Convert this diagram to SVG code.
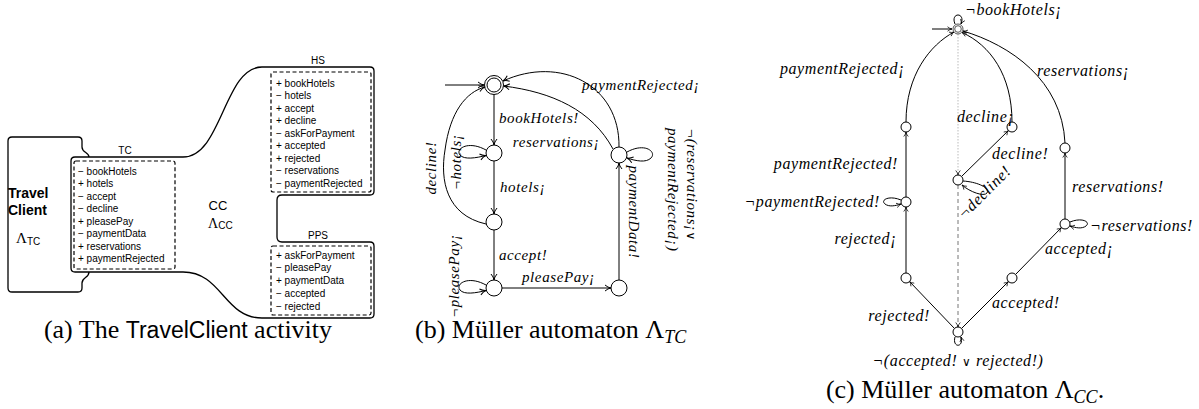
<svg xmlns="http://www.w3.org/2000/svg" width="1199" height="409" viewBox="0 0 1199 409">
  <style>
    .ln { fill: none; stroke: #000; stroke-width: 1; }
    .box { fill: none; stroke: #000; stroke-width: 1.3; }
    .dash { fill: none; stroke: #000; stroke-width: 1.2; stroke-dasharray: 4 2.5; }
    .st { fill: #fff; stroke: #000; stroke-width: 1; }
    .sans { font-family: "Liberation Sans", Arial, sans-serif; fill: #000; }
    .item { font-family: "Liberation Sans", Arial, sans-serif; font-size: 10px; fill: #000; }
    .lbl { font-family: "Liberation Serif", "Times New Roman", serif; font-style: italic; font-size: 15px; letter-spacing: 0.6px; fill: #000; }
    .lbc { font-family: "Liberation Serif", "Times New Roman", serif; font-style: italic; font-size: 16px; letter-spacing: 0.6px; fill: #000; }
    .or { font-family: "DejaVu Sans", sans-serif; font-style: normal; font-size: 12px; }
    .cap { font-family: "Liberation Serif", "Times New Roman", serif; font-size: 26px; fill: #000; }
  </style>
  <defs>
    <marker id="arr" viewBox="0 0 8 8" refX="7" refY="4" markerWidth="8" markerHeight="8" markerUnits="userSpaceOnUse" orient="auto">
      <path d="M1,1 Q4,3.6 7,4 Q4,4.4 1,7" fill="none" stroke="#000" stroke-width="1"/>
    </marker>
    <marker id="arrs" viewBox="0 0 8 8" refX="7" refY="4" markerWidth="6" markerHeight="6" markerUnits="userSpaceOnUse" orient="auto">
      <path d="M1,1 Q4,3.6 7,4 Q4,4.4 1,7" fill="none" stroke="#000" stroke-width="1"/>
    </marker>
  </defs>

  <!-- (a) activity -->
  <g id="travel-client">
    <path class="box" d="M12,137 L78,137 Q82,137 82,141 L82,147 C82,153 89,152 89,157 M89,272 C89,278 82,277 82,283 L82,288 Q82,292 78,292 L12,292 Q8,292 8,288 L8,141 Q8,137 12,137"/>
    <text class="sans" x="8" y="198" font-size="14" font-weight="bold">Travel</text>
    <text class="sans" x="8" y="215" font-size="14" font-weight="bold">Client</text>
    <text x="16" y="243" font-family="Liberation Serif, serif" font-size="15">Λ<tspan class="sans" font-size="10" dy="2">TC</tspan></text>
  </g>
  <g id="cc-component">
    <path class="box" d="M75,157 L183,157 C222,157 224,67 262,67 L370,67 Q374,67 374,71 L374,191 Q374,195 370,195 L282,195 Q277,195 277,200 L277,237 Q277,242 282,242 L370,242 Q374,242 374,246 L374,314 Q374,318 370,318 L262,318 C224,318 222,272 183,272 L75,272 Q71,272 71,268 L71,161 Q71,157 75,157 Z"/>
    <text class="sans" x="218" y="210" font-size="13" text-anchor="middle">CC</text>
    <text x="208" y="228" font-family="Liberation Serif, serif" font-size="14">Λ<tspan class="sans" font-size="10" dy="1">CC</tspan></text>
  </g>
  <g id="port-tc">
    <rect class="dash" x="74" y="161" width="101" height="108" rx="2"/>
    <text class="item" x="125" y="154" text-anchor="middle">TC</text>
    <text class="item" x="78" y="174.5">− bookHotels</text>
    <text class="item" x="78" y="187">+ hotels</text>
    <text class="item" x="78" y="199.5">− accept</text>
    <text class="item" x="78" y="212">− decline</text>
    <text class="item" x="78" y="224.5">+ pleasePay</text>
    <text class="item" x="78" y="237">− paymentData</text>
    <text class="item" x="78" y="249.5">+ reservations</text>
    <text class="item" x="78" y="262">+ paymentRejected</text>
  </g>
  <g id="port-hs">
    <rect class="dash" x="271" y="72" width="100" height="120" rx="2"/>
    <text class="item" x="318" y="64" text-anchor="middle">HS</text>
    <text class="item" x="276" y="86.5">+ bookHotels</text>
    <text class="item" x="276" y="99">− hotels</text>
    <text class="item" x="276" y="111.5">+ accept</text>
    <text class="item" x="276" y="124">+ decline</text>
    <text class="item" x="276" y="136.5">− askForPayment</text>
    <text class="item" x="276" y="149">+ accepted</text>
    <text class="item" x="276" y="161.5">+ rejected</text>
    <text class="item" x="276" y="174">− reservations</text>
    <text class="item" x="276" y="186.5">− paymentRejected</text>
  </g>
  <g id="port-pps">
    <rect class="dash" x="271" y="246" width="100" height="69" rx="2"/>
    <text class="item" x="318" y="239" text-anchor="middle">PPS</text>
    <text class="item" x="276" y="258.5">+ askForPayment</text>
    <text class="item" x="276" y="271">− pleasePay</text>
    <text class="item" x="276" y="284">+ paymentData</text>
    <text class="item" x="276" y="296.5">− accepted</text>
    <text class="item" x="276" y="309.5">− rejected</text>
  </g>
  <text class="cap" x="188" y="338" text-anchor="middle">(a) The <tspan font-family="Liberation Sans, sans-serif" font-size="23">TravelClient</tspan> activity</text>

  <!-- (b) automaton for TC -->
  <g id="tc-edges">
    <path class="ln" marker-end="url(#arr)" d="M445,85 L484,85"/>
    <path class="ln" marker-end="url(#arr)" d="M494,94.5 L494,145"/>
    <path class="ln" marker-end="url(#arr)" d="M494,161 L494,214"/>
    <path class="ln" marker-end="url(#arr)" d="M494,230 L494,280"/>
    <path class="ln" marker-end="url(#arr)" d="M502,288 L611,288"/>
    <path class="ln" marker-end="url(#arr)" d="M619,280 L619,163"/>
    <path class="ln" marker-end="url(#arr)" d="M619,147 C620,85 560,55 503,81"/>
    <path class="ln" marker-end="url(#arr)" d="M613,149 C592,110 552,92 503.5,86"/>
    <path class="ln" marker-end="url(#arr)" d="M486,224 C446,215 440,180 445,150 C450,112 466,92 485,87"/>
    <path class="ln" marker-end="url(#arr)" d="M486,150 C468,140 455,149 460,155 C464,160 476,158 486,155.5"/>
    <path class="ln" marker-end="url(#arr)" d="M486,285 C468,275 455,284 460,290 C464,295 476,293 486,290.5"/>
    <path class="ln" marker-end="url(#arr)" d="M627,152 C645,142 657,152 651,158 C646,163 636,161 627,158"/>
  </g>
  <g id="tc-s0"><circle class="st" cx="494" cy="85" r="9.5"/><circle class="st" cx="494" cy="85" r="7"/></g>
  <g id="tc-s1"><circle class="st" cx="494" cy="153" r="8"/></g>
  <g id="tc-s2"><circle class="st" cx="494" cy="222" r="8"/></g>
  <g id="tc-s3"><circle class="st" cx="494" cy="288" r="8"/></g>
  <g id="tc-s4"><circle class="st" cx="619" cy="288" r="8"/></g>
  <g id="tc-s5"><circle class="st" cx="619" cy="155" r="8"/></g>
  <g id="tc-labels">
    <text class="lbl" x="499" y="123">bookHotels!</text>
    <text class="lbl" x="600" y="147" text-anchor="end">reservations¡</text>
    <text class="lbl" x="582" y="90">paymentRejected¡</text>
    <text class="lbl" x="500" y="192">hotels¡</text>
    <text class="lbl" x="499" y="260">accept!</text>
    <text class="lbl" x="522" y="282">pleasePay¡</text>
    <text class="lbl" transform="translate(629,212) rotate(90)" text-anchor="middle">paymentData!</text>
    <text class="lbl" transform="translate(687,128) rotate(90)">¬(reservations¡<tspan class="or">∨</tspan></text>
    <text class="lbl" transform="translate(668,128) rotate(90)">paymentRejected¡)</text>
    <text class="lbl" transform="translate(436,168) rotate(-90)" text-anchor="middle">decline!</text>
    <text class="lbl" transform="translate(461,162) rotate(-90)" text-anchor="middle">¬hotels¡</text>
    <text class="lbl" transform="translate(459,276) rotate(-90)" text-anchor="middle">¬pleasePay¡</text>
  </g>
  <text class="cap" x="415" y="338">(b) Müller automaton Λ<tspan font-style="italic" font-size="18" dy="5">TC</tspan></text>

  <!-- (c) automaton for CC -->
  <g id="cc-edges">
    <path class="ln" marker-end="url(#arrs)" d="M932,29 L952,29"/>
    <path class="ln" marker-end="url(#arrs)" d="M955,24 C950,12 966,12 961,24"/>
    <path class="ln" marker-end="url(#arrs)" d="M906,122 C906,75 930,45 954,32"/>
    <path class="ln" marker-end="url(#arrs)" d="M906,197 L906,132"/>
    <path class="ln" marker-end="url(#arrs)" d="M906,273 L906,207"/>
    <path class="ln" marker-end="url(#arrs)" d="M954.5,328.5 L909.5,281.5"/>
    <path class="ln" marker-end="url(#arrs)" d="M961.5,328.5 L1008.5,281.5"/>
    <path class="ln" marker-end="url(#arrs)" d="M1015.5,274.5 L1061.5,227.5"/>
    <path class="ln" marker-end="url(#arrs)" d="M1065,219 L1065,153"/>
    <path class="ln" marker-end="url(#arrs)" d="M1065,143 C1062,80 1010,45 963,31"/>
    <path class="ln" marker-end="url(#arrs)" d="M1012,122 C1012,75 990,45 962,32.5"/>
    <path class="ln" marker-end="url(#arrs)" d="M961.5,176.5 L1008.5,130.5"/>
    <path class="ln" marker-end="url(#arrs)" stroke-dasharray="1.5 1.5" style="stroke:#bbb" d="M958,34 L958,175"/>
    <path class="ln" marker-end="url(#arrs)" stroke-dasharray="4 3" style="stroke:#777" d="M958,185 L958,327"/>
    <path class="ln" marker-end="url(#arrs)" d="M901,200 C889,195 880,200 885,204 C889,207 895,206 901,204"/>
    <path class="ln" marker-end="url(#arrs)" d="M1070,222 C1082,217 1091,222 1086,226 C1082,229 1076,228 1070,226"/>
    <path class="ln" marker-end="url(#arrs)" d="M963,181 C978,182 990,188 987,193 C984,197 970,192 962,185"/>
    <path class="ln" marker-end="url(#arrs)" d="M955,337 C952,348 964,348 961,337"/>
  </g>
  <g id="cc-q0"><circle class="st" cx="958" cy="29" r="5" style="stroke:#555"/><circle class="st" cx="958" cy="29" r="3.3" style="stroke:#555"/></g>
  <g id="cc-l1"><circle class="st" cx="906" cy="127" r="5"/></g>
  <g id="cc-l2"><circle class="st" cx="906" cy="202" r="5"/></g>
  <g id="cc-l3"><circle class="st" cx="906" cy="278" r="5"/></g>
  <g id="cc-b"><circle class="st" cx="958" cy="332" r="5"/></g>
  <g id="cc-d1"><circle class="st" cx="1012" cy="127" r="5"/></g>
  <g id="cc-d2"><circle class="st" cx="958" cy="180" r="5"/></g>
  <g id="cc-r1"><circle class="st" cx="1065" cy="148" r="5"/></g>
  <g id="cc-r2"><circle class="st" cx="1065" cy="224" r="5"/></g>
  <g id="cc-r3"><circle class="st" cx="1012" cy="278" r="5"/></g>
  <g id="cc-labels">
    <text class="lbc" x="965" y="15">¬bookHotels¡</text>
    <text class="lbc" x="905" y="74" text-anchor="end">paymentRejected¡</text>
    <text class="lbc" x="898" y="169" text-anchor="end">paymentRejected!</text>
    <text class="lbc" x="880" y="207" text-anchor="end">¬paymentRejected!</text>
    <text class="lbc" x="897" y="244" text-anchor="end">rejected¡</text>
    <text class="lbc" x="930" y="321" text-anchor="end">rejected!</text>
    <text class="lbc" x="958" y="366" text-anchor="middle">¬(accepted! <tspan class="or">∨</tspan> rejected!)</text>
    <text class="lbc" x="957" y="122">decline¡</text>
    <text class="lbc" x="992" y="159">decline!</text>
    <text class="lbc" transform="translate(964,220) rotate(-45)">¬decline!</text>
    <text class="lbc" x="1037" y="76">reservations¡</text>
    <text class="lbc" x="1072" y="192">reservations!</text>
    <text class="lbc" x="1090" y="231">¬reservations!</text>
    <text class="lbc" x="1045" y="254">accepted¡</text>
    <text class="lbc" x="992" y="308">accepted!</text>
  </g>
  <text class="cap" x="965" y="398" text-anchor="middle">(c) Müller automaton Λ<tspan font-style="italic" font-size="18" dy="5">CC</tspan><tspan dy="-5">.</tspan></text>
</svg>
